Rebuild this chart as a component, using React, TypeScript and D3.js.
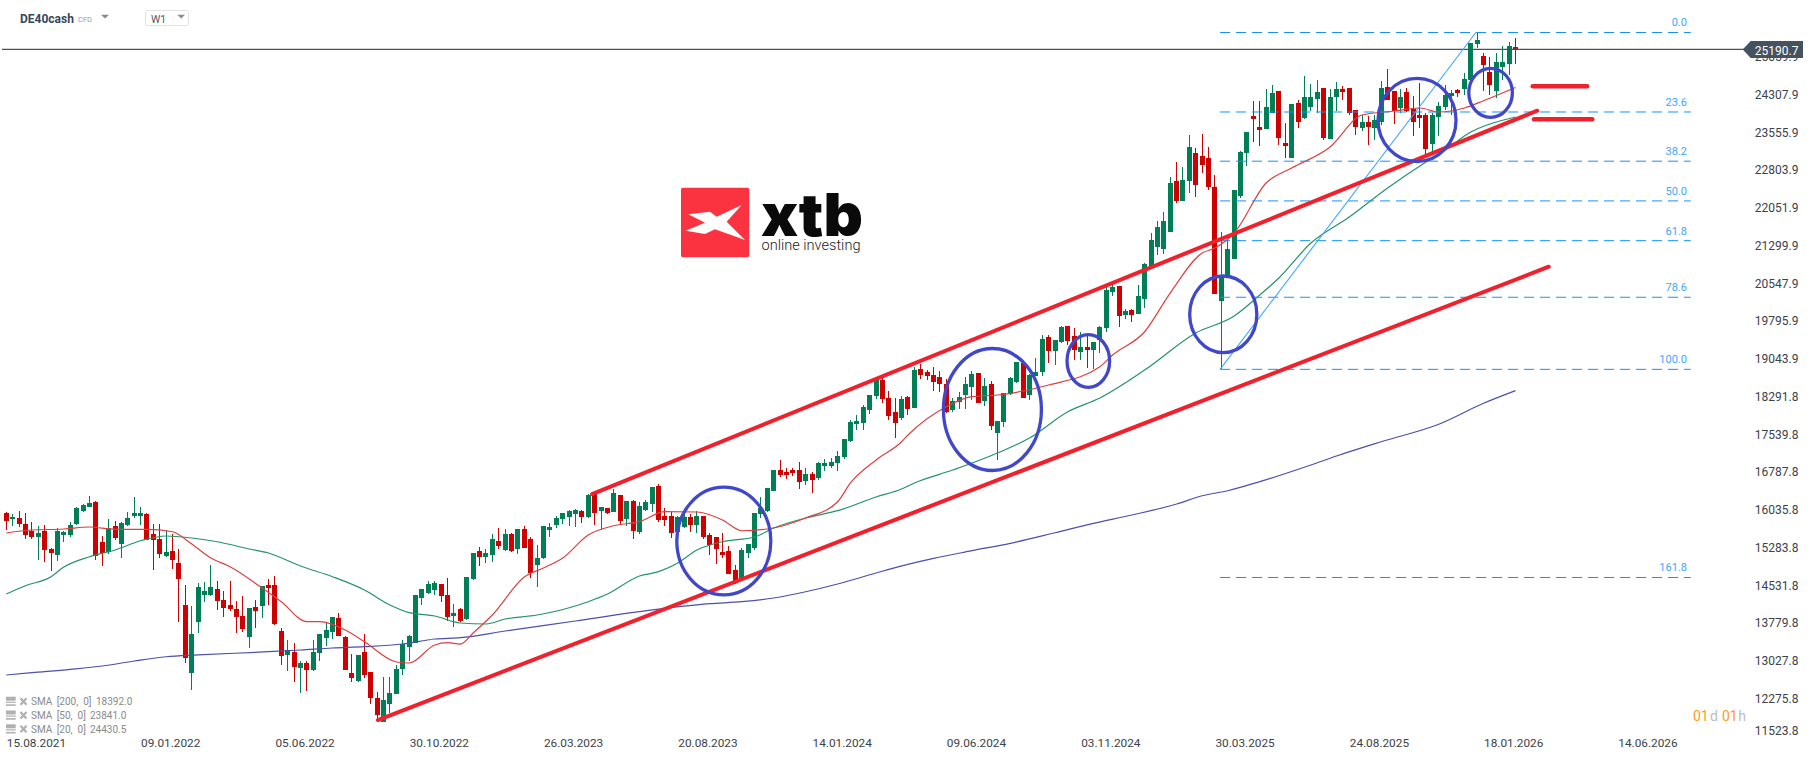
import * as d3 from "d3"
import React from "react"

const width = 1815
const height = 761

// weekly DE40 candles
const opens = [
  15962,15829,15856,15736,15603,15477,15603,15238,15119,15524,
  15517,15736,15988,16075,16174,15378,15178,15696,15338,15716,
  15895,15895,15935,15537,15437,15099,15198,14959,14123,12768,
  13784,14322,14322,14441,14222,14123,14043,13903,13485,14083,
  14103,14521,14521,13605,13127,13186,12868,12967,12828,13166,
  13465,13585,13864,13485,12768,12609,13186,12788,12270,11792,
  12150,12350,12848,13286,13366,14262,14362,14421,14541,14322,
  13903,14043,13843,14640,15198,15078,15118,15397,15218,15536,
  15238,15636,15437,14919,15058,15616,15716,15835,15875,15935,
  15995,15875,16333,15995,16054,15975,16313,15835,16194,15576,
  16015,16134,16493,15895,15895,15576,15676,15875,15716,15895,
  15517,15477,15178,15198,14819,14640,15158,15258,15935,15995,
  16393,16811,16772,16811,16811,16592,16732,16652,16891,16891,
  16951,17078,17390,17728,17748,18007,18286,18605,18245,17967,
  17847,18265,18046,18823,18763,18704,18664,18524,18006,18166,
  18305,18465,18743,18186,18524,17548,17767,18325,18564,18943,
  18305,18684,18763,19461,19182,19361,19680,19480,19162,19261,
  19202,19401,19640,20357,20476,19899,19998,19919,20218,20876,
  21254,21214,21553,22569,22170,22568,23126,23066,23027,22449,
  20178,20696,21015,22270,23126,23863,23644,23604,23923,24361,
  23325,23027,24122,23823,24043,24202,24421,23405,24242,24401,
  24421,23983,23624,23744,23624,23744,24441,24361,24023,24341,
  24003,23883,23883,23305,23843,24043,24262,24381,24401,24580,
  25298,25058,24740,24361,24839,24899,25238,
]
const highs = [
  15982,15935,16002,15962,15776,15696,15716,15258,15650,15603,
  15776,16081,16128,16294,16194,15497,15829,15796,15776,15975,
  16274,16075,15949,15736,15736,15617,15537,15238,14521,14103,
  14561,14581,14919,14601,14401,14601,14202,14302,14063,14222,
  14501,14640,14700,13664,13425,13366,13007,13007,13425,13545,
  13784,13884,13963,13505,13147,13127,13545,12788,12390,12688,
  12688,12927,13425,13525,14322,14441,14601,14601,14541,14660,
  14142,14062,14680,15158,15278,15238,15536,15656,15636,15556,
  15636,15696,15477,15317,15696,15756,15895,15955,16015,16035,
  16015,16333,16373,16074,16054,16433,16313,16194,16214,16174,
  16214,16473,16533,16054,15975,15895,15975,15935,15995,15895,
  15556,15477,15556,15297,14919,15258,15337,15955,16274,16453,
  16811,17011,16851,16851,16971,16851,16772,16971,17031,17050,
  17190,17430,17808,17908,18107,18306,18645,18638,18385,18245,
  18285,18285,18863,18923,18803,18863,18783,18624,18245,18365,
  18664,18783,18743,18644,18584,17787,18345,18664,18963,18982,
  18723,19042,19500,19500,19401,19680,19680,19640,19560,19480,
  19361,19680,20457,20496,20476,20018,20018,20496,20935,21533,
  21772,21951,22649,22947,22848,23485,23226,23505,23246,22688,
  21553,21393,22389,23166,23545,24162,24162,24401,24481,24361,
  23724,24102,24182,24660,24501,24580,24421,24401,24541,24461,
  24421,23983,23883,23863,23883,24560,24800,24361,24401,24421,
  24262,24521,23923,23923,24142,24481,24381,24401,24720,25317,
  25517,25118,25039,25118,25258,25337,25417,
]
const lows = [
  15617,15696,15683,15444,15431,15019,14986,14800,15006,15378,
  15484,15716,15975,16075,15019,14899,15138,15417,15059,15696,
  15856,15716,15417,14820,15059,15079,14840,13784,12967,12429,
  13565,14182,14302,14023,13884,14003,13565,13585,13266,13664,
  13864,14123,13724,12927,12808,12589,12370,12409,12808,13007,
  13306,13445,13505,12828,12589,12589,12668,12150,11832,11792,
  11965,12350,12728,13007,13366,14123,14342,14322,14182,13804,
  13691,13784,13823,14620,14899,14959,14979,15238,15198,15178,
  15138,15258,14660,14481,15039,15477,15656,15736,15696,15676,
  15756,15855,15716,15616,15935,15975,15716,15696,15437,15536,
  15995,15975,15775,15696,15457,15576,15656,15576,15556,15437,
  15118,14939,15058,14740,14540,14640,15058,15218,15855,15975,
  16393,16672,16632,16692,16433,16513,16353,16612,16792,16851,
  16792,17031,17370,17609,17609,17928,18226,18147,17807,17449,
  17807,17907,18046,18624,18604,18385,18365,17947,17967,18026,
  18026,18206,18146,18086,17608,17010,17668,18305,18544,18245,
  18206,18684,18684,18943,18903,19341,19301,19002,19002,18843,
  18823,19142,19560,20277,19660,19819,19759,19919,20038,20876,
  21095,21115,21553,22131,22170,22329,22250,22728,22389,20318,
  18824,20663,21015,22230,22867,23345,23266,23604,23923,23286,
  23027,23027,23624,23803,23963,23923,23385,23405,23963,24182,
  23883,23485,23564,23286,23385,23684,24182,23704,23923,23943,
  23465,23624,23047,23126,23465,23983,23883,24242,24282,24580,
  25218,24361,24282,24222,24580,24680,24899,
]
const closes = [
  15803,15882,15736,15524,15477,15557,15218,15158,15603,15577,
  15716,16055,16108,16154,15099,15158,15650,15457,15756,15856,
  15955,15955,15417,15417,15138,15178,15019,14640,13067,13545,
  14481,14401,14481,14202,14063,14043,13884,13644,14063,14003,
  14501,14461,13744,13107,13226,12888,12967,12828,13186,13545,
  13625,13884,13505,12828,12668,13127,12728,12270,11931,12230,
  12370,12848,13346,13505,14322,14441,14541,14561,14302,13884,
  13963,13803,14680,15158,15078,15158,15437,15297,15536,15198,
  15636,15258,14760,15058,15696,15676,15855,15955,15995,16015,
  15875,16313,15955,16074,15955,16353,15795,16194,15596,16094,
  16174,16473,15815,15815,15556,15875,15875,15716,15895,15477,
  15317,15238,15118,14740,14560,15218,15337,15955,16054,16453,
  16811,16712,16712,16752,16572,16732,16612,16951,16951,16971,
  17090,17430,17768,17788,18067,18306,18605,18226,17887,17747,
  18225,18026,18803,18704,18684,18564,18524,17967,18186,18265,
  18524,18723,18146,18484,17688,17787,18345,18644,18963,18245,
  18704,18763,19421,19182,19401,19660,19381,19202,19261,19202,
  19361,19660,20397,20457,19879,19978,19899,20277,20915,21394,
  21653,21772,22529,22170,22589,23246,22489,22887,22449,20318,
  20696,21214,22389,23146,23545,23804,23584,24043,24321,23425,
  23266,24102,23744,24242,24242,24341,23425,24242,24401,24341,
  23923,23644,23744,23644,23784,24421,24182,23963,24242,23963,
  23744,23823,23206,23883,24063,24282,24321,24321,24600,25317,
  25377,24879,24481,24939,24939,25258,25198,
]

// moving averages, read at the bar numbers listed next to them
const sma20Bars = [0,4,9,13,17,22,26,29,32,35,40,43,47,49,53,56,61,63,67,69,71,73,76,81,84,87,91,95,99,103,108,112,115,119,125,130,132,136,140,141,147,151,155,163,171,173,178,182,187,189,192,197,201,207,212,217,221,224,228,231,236]
const sma20Values = [15557,15616,15636,15676,15630,15630,15582,15337,15058,14885,14461,14188,13790,13790,13624,13391,12987,12967,13325,13371,13345,13565,13923,14680,14859,15058,15517,15702,15782,15981,15975,15816,15602,15636,15855,16180,16553,17011,17375,17509,18073,18272,18306,18505,18869,19102,19566,20337,21134,21234,21533,22529,22827,23246,23883,23963,24023,23943,24023,24168,24431]
const sma50Bars = [0,3,7,9,13,17,21,25,29,33,38,41,46,51,56,60,63,67,71,75,78,83,91,94,99,102,105,108,112,117,120,125,130,136,140,142,148,155,160,166,171,178,186,192,196,199,204,210,216,222,225,229,232,236]
const sma50Values = [14342,14507,14686,14879,15084,15218,15403,15497,15457,15383,15238,15158,14899,14686,14421,14122,13969,13903,13764,13744,13843,13923,14188,14341,14700,14786,14959,15218,15383,15477,15656,15855,16001,16274,16433,16553,16811,17150,17449,17973,18246,18803,19541,19879,20297,20636,21333,21851,22429,22947,23186,23545,23704,23843]
const sma200Bars = [0,4,10,15,20,25,30,41,46,51,56,62,67,71,78,89,99,110,115,120,125,130,136,138,145,151,157,164,170,176,183,187,191,196,204,208,215,224,231,236]
const sma200Values = [12728,12774,12840,12907,13007,13092,13127,13192,13226,13266,13292,13345,13445,13471,13604,13804,13989,14148,14188,14262,14387,14541,14760,14833,15052,15204,15351,15562,15750,15915,16134,16299,16399,16579,16911,17090,17375,17722,18140,18392]

const priceTicks = [25059.9,24307.9,23555.9,22803.9,22051.9,21299.9,20547.9,19795.9,19043.9,18291.8,17539.8,16787.8,16035.8,15283.8,14531.8,13779.8,13027.8,12275.8,11523.8]
const dateLabels = ["15.08.2021","09.01.2022","05.06.2022","30.10.2022","26.03.2023","20.08.2023","14.01.2024","09.06.2024","03.11.2024","30.03.2025","24.08.2025","18.01.2026","14.06.2026"]
const barsPerLabel = 21
const lastPrice = 25190.7

// fibonacci drawing
const fibHigh = 25527
const fibLow = 18817
const fibLevels = [0, 23.6, 38.2, 50, 61.8, 78.6, 100, 161.8]
const fibFromBar = 189.8
const fibHighBar = 229.8
const fibToBar = 263.4

// hand drawn trend lines: bar, price, bar, price
const redLines = [
  [58.1, 11831, 241.2, 20861],
  [91.6, 16333, 239.4, 23969],
  [238.7, 24455, 247.2, 24455],
  [238.9, 23798, 248, 23798],
]
// hand drawn ellipses: bar, price, half width in bars, half height in points
const ellipses = [
  [112.2, 15397, 7.35, 1072],
  [154.2, 18017, 7.66, 1215],
  [169.2, 18983, 3.33, 524],
  [190.3, 19913, 5.25, 763],
  [220.6, 23784, 6.1, 829],
  [232.1, 24325, 3.41, 488],
]

const legendRows = [
  ["[200,  0]", "18392.0"],
  ["[50,  0]", "23841.0"],
  ["[20,  0]", "24430.5"],
]

const font = "Roboto, sans-serif"
const green = "#007f56"
const red = "#cf0000"
const slate = "#44535f"

const drawChart = (node: SVGSVGElement) => {
  const svg = d3.select(node)
  svg.selectAll("*").remove()

  const x = d3.scaleLinear().domain([0, 252]).range([6.3, 6.3 + 6.395 * 252])
  const y = d3.scaleLinear().domain([12275.8, 24307.9]).range([697.7, 93.7])

  // logo sits under everything
  const logo = svg.append("g")
  logo.append("rect").attr("x", 681).attr("y", 187.7).attr("width", 68.3).attr("height", 69.6).attr("rx", 2).attr("fill", "#fb3340")
  logo.append("path")
    .attr("transform", "translate(670,170) scale(0.3333)")
    .attr("d", "M55,133 L120,125 L140,140 L215,105 L170,155 L225,210 L135,178 L105,192 L47,182 L105,158 Z")
    .attr("fill", "#fff")
  logo.append("text").attr("x", 761).attr("y", 235.7).attr("font-family", "Inter, Roboto, sans-serif").attr("font-weight", 900)
    .attr("font-size", 59).attr("textLength", 102).attr("lengthAdjust", "spacingAndGlyphs").attr("fill", "#0a0a0a").text("xtb")
  logo.append("text").attr("x", 761.5).attr("y", 250).attr("font-family", font).attr("font-weight", 300)
    .attr("font-size", 15).attr("textLength", 99).attr("lengthAdjust", "spacingAndGlyphs").attr("fill", "#222").text("online investing")

  // price axis
  const yAxis = d3.axisRight(y).tickValues(priceTicks).tickSize(0).tickPadding(0).tickFormat((d: any) => d3.format(".1f")(d))
  svg.append("g")
    .attr("transform", "translate(1798.5,1)")
    .call(yAxis as any)
    .call((g: any) => g.select(".domain").remove())
    .call((g: any) => g.selectAll("text")
      .attr("x", 0).attr("dy", ".35em").attr("text-anchor", "end")
      .attr("font-family", font).attr("font-size", 12).attr("fill", "#3b4249"))
    .call((g: any) => g.selectAll(".tick")
      .attr("transform", (d: any) => `translate(0,${Math.min(y(d), 730)})`))

  // date axis
  const xAxis = d3.axisBottom(x)
    .tickValues(dateLabels.map((_, i) => i * barsPerLabel))
    .tickSize(0)
    .tickFormat((d: any) => dateLabels[d / barsPerLabel])
  svg.append("g")
    .attr("transform", "translate(0,743.3)")
    .call(xAxis as any)
    .call((g: any) => g.select(".domain").remove())
    .call((g: any) => g.selectAll("text")
      .attr("y", 0).attr("dy", ".35em").attr("text-anchor", "start")
      .attr("font-family", font).attr("font-size", 11.8).attr("fill", "#3b4249"))

  // candles
  const candle = svg.append("g").attr("shape-rendering", "crispEdges")
    .selectAll("g").data(d3.range(opens.length)).join("g")
    .attr("fill", (i: number) => closes[i] >= opens[i] ? green : red)
  candle.append("rect")
    .attr("x", (i: number) => Math.floor(x(i)))
    .attr("width", 1)
    .attr("y", (i: number) => y(highs[i]))
    .attr("height", (i: number) => y(lows[i]) - y(highs[i]))
  candle.append("rect")
    .attr("x", (i: number) => Math.floor(x(i)) - 2)
    .attr("width", 5)
    .attr("y", (i: number) => y(Math.max(opens[i], closes[i])))
    .attr("height", (i: number) => Math.max(1.5, Math.abs(y(opens[i]) - y(closes[i]))))

  // moving averages
  const drawSma = (bars: number[], values: number[], color: string) => {
    const path = d3.line<number>()
      .x((b: number) => x(b))
      .y((_: number, i: number) => y(values[i]))
      .curve(d3.curveMonotoneX)
    svg.append("path").attr("d", path(bars))
      .attr("fill", "none").attr("stroke", color).attr("stroke-width", 1.2)
  }
  drawSma(sma200Bars, sma200Values, "#4a50ab")
  drawSma(sma50Bars, sma50Values, "#25936c")
  drawSma(sma20Bars, sma20Values, "#dc4040")

  // last price line and tag
  svg.append("line").attr("x1", 2).attr("x2", 1744).attr("y1", y(lastPrice)).attr("y2", y(lastPrice))
    .attr("stroke", slate).attr("stroke-width", 1.2)
  const tagY = y(lastPrice)
  svg.append("path")
    .attr("d", `M1742.7,${tagY} L1750.7,${tagY - 8.5} H1803 V${tagY + 8.5} H1750.7 Z`)
    .attr("fill", slate)
  svg.append("text").attr("x", 1798.5).attr("y", tagY + 1).attr("dy", ".35em").attr("text-anchor", "end")
    .attr("font-family", font).attr("font-size", 12).attr("fill", "#fff").text(d3.format(".1f")(lastPrice))

  // fibonacci levels
  const fibPrice = (l: number) => fibHigh - (fibHigh - fibLow) * l / 100
  const fib = svg.append("g")
  fib.selectAll("line").data(fibLevels).join("line")
    .attr("x1", x(fibFromBar)).attr("x2", x(fibToBar))
    .attr("y1", (l: number) => y(fibPrice(l))).attr("y2", (l: number) => y(fibPrice(l)))
    .attr("stroke", "#1493f5").attr("stroke-width", 1).attr("stroke-dasharray", "10,6")
  fib.selectAll("text").data(fibLevels).join("text")
    .attr("x", 1687).attr("y", (l: number) => y(fibPrice(l)) - 10).attr("dy", ".35em").attr("text-anchor", "end")
    .attr("font-family", font).attr("font-size", 11).attr("fill", "#3ea6ff")
    .text((l: number) => d3.format(".1f")(l))
  svg.append("line")
    .attr("x1", x(fibFromBar)).attr("y1", y(fibLow)).attr("x2", x(fibHighBar)).attr("y2", y(fibHigh))
    .attr("stroke", "#3ea6ff").attr("stroke-width", 1.1)

  // drawings
  svg.append("g").selectAll("line").data(redLines).join("line")
    .attr("x1", (d: number[]) => x(d[0])).attr("y1", (d: number[]) => y(d[1]))
    .attr("x2", (d: number[]) => x(d[2])).attr("y2", (d: number[]) => y(d[3]))
    .attr("stroke", "#f0212c").attr("stroke-width", (d: number[]) => d[1] === d[3] ? 4.6 : 4)
    .attr("stroke-linecap", "round")
  svg.append("g").selectAll("ellipse").data(ellipses).join("ellipse")
    .attr("cx", (d: number[]) => x(d[0])).attr("cy", (d: number[]) => y(d[1]))
    .attr("rx", (d: number[]) => x(d[2]) - x(0)).attr("ry", (d: number[]) => y(0) - y(d[3]))
    .attr("fill", "none").attr("stroke", "#4048c9").attr("stroke-width", 3.3)

  // toolbar
  const top = svg.append("g").attr("font-family", font)
  top.append("text").attr("x", 20).attr("y", 19).attr("dy", ".35em").attr("font-size", 12).attr("font-weight", 700).attr("fill", "#34495a").text("DE40cash")
  top.append("text").attr("x", 78).attr("y", 19.5).attr("dy", ".35em").attr("font-size", 7.5).attr("fill", "#9a9a9a").text("CFD")
  top.append("path").attr("d", "M101,14.7 H109 L105,18.5 Z").attr("fill", "#8a8a8a")
  top.append("rect").attr("x", 145.5).attr("y", 10.5).attr("width", 43).attr("height", 15).attr("rx", 2).attr("fill", "#fff").attr("stroke", "#e2e2e2")
  top.append("text").attr("x", 151).attr("y", 19.8).attr("dy", ".35em").attr("font-size", 10.5).attr("fill", "#555").text("W1")
  top.append("path").attr("d", "M177.3,14.7 H185 L181.2,18.5 Z").attr("fill", "#8a8a8a")

  // indicator legend
  const legend = svg.append("g").attr("font-family", font).attr("font-size", 10).attr("fill", "#8a8a8a")
    .selectAll("g").data(legendRows).join("g")
    .attr("transform", (_: any, i: number) => `translate(0,${701.7 + i * 13.8})`)
  legend.append("rect").attr("x", 6).attr("y", -5).attr("width", 9.7).attr("height", 4).attr("fill", "#b0b0b0")
  legend.append("rect").attr("x", 6).attr("y", 0).attr("width", 9.7).attr("height", 1.2).attr("fill", "#b0b0b0")
  legend.append("rect").attr("x", 6).attr("y", 2.6).attr("width", 9.7).attr("height", 1.6).attr("fill", "#b0b0b0")
  legend.append("path").attr("d", "M20.5,-3.5 L26.5,3 M26.5,-3.5 L20.5,3").attr("stroke", "#b0b0b0").attr("stroke-width", 2.2)
  legend.append("text").attr("x", 31).attr("dy", ".35em").text("SMA")
  legend.append("text").attr("x", 56.7).attr("dy", ".35em").style("white-space", "pre").text((d: string[]) => d[0])
  legend.append("text").attr("x", (d: string[]) => d[0].startsWith("[200") ? 96 : 90).attr("dy", ".35em").text((d: string[]) => d[1])

  // countdown to candle close
  const countdown = svg.append("g").attr("font-family", font).attr("font-size", 14)
  const parts: [number, string, string][] = [[1693, "01", "#ff9a1f"], [1710, "d", "#b9bdc1"], [1722, "01", "#ff9a1f"], [1738.3, "h", "#b9bdc1"]]
  parts.forEach(([px, t, c]) => {
    countdown.append("text").attr("x", px).attr("y", 716).attr("dy", ".35em").attr("fill", c).text(t)
  })
}

const App = () => {
  const ref = React.useRef<SVGSVGElement>(null)
  React.useEffect(() => {
    if (ref.current) drawChart(ref.current)
  }, [])

  return <svg ref={ref} width={width} height={height} viewBox={`0 0 ${width} ${height}`}
    style={{ position: "absolute", left: 0, top: 0, background: "#fff", display: "block" }} />
}

export default App
